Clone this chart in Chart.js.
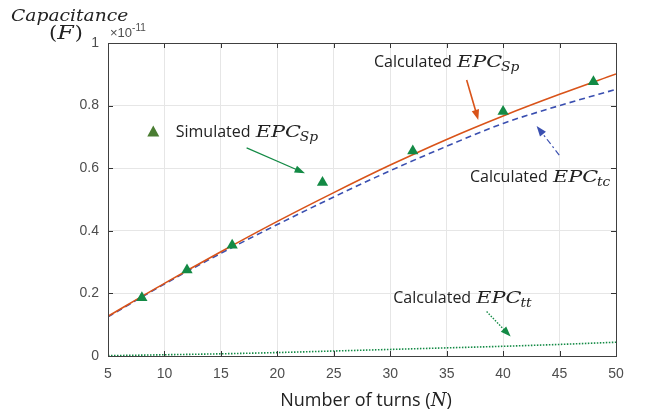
<!DOCTYPE html>
<html>
<head>
<meta charset="utf-8">
<script src="https://cdn.jsdelivr.net/npm/chart.js@4.4.0/dist/chart.umd.min.js"></script>
<style>
  html, body { margin: 0; padding: 0; background: #fff; }
  #wrap { width: 647px; height: 415px; }
</style>
</head>
<body>
<div id="wrap"><canvas id="epcChart" width="647" height="415"></canvas></div>
<script>
// 数据（单位 ×10^-11 F）
const turns = [5, 10, 15, 20, 25, 30, 35, 40, 45, 50];
const epcSp = [0.127, 0.232, 0.333, 0.430, 0.522, 0.610, 0.692, 0.767, 0.836, 0.901];
const epcTc = [0.125, 0.230, 0.328, 0.420, 0.508, 0.592, 0.670, 0.743, 0.800, 0.852];
const epcTt = [0.001, 0.004, 0.007, 0.011, 0.016, 0.021, 0.026, 0.031, 0.037, 0.044];
const simTurns = [8, 12, 16, 24, 32, 40, 48];
const simEpc = [0.186, 0.275, 0.354, 0.554, 0.655, 0.781, 0.876];
const xTicks = [5, 10, 15, 20, 25, 30, 35, 40, 45, 50];
const yTicks = [0, 0.2, 0.4, 0.6, 0.8, 1];

const RED = '#d95319';
const BLUE = '#3a4fb0';
const GREEN = '#138a45';

const SANS = '"Open Sans"';

// 注释：文字和箭头（数据坐标，文字为基线左端）
const notes = [
    { x: 28.56, y: 0.923, main: 'Calculated ', sub: 'Sp',
      arrow: [36.77, 0.882, 37.80, 0.754], color: RED, dash: [], width: 1.6 },
    { x: 37.06, y: 0.557, main: 'Calculated ', sub: 'tc',
      arrow: [44.97, 0.642, 42.97, 0.735], color: BLUE, dash: [6, 3, 2, 3], width: 1.2 },
    { x: 11.0, y: 0.700, main: 'Simulated ', sub: 'Sp',
      arrow: [17.28, 0.665, 22.45, 0.584], color: GREEN, dash: [], width: 1.2 },
    { x: 30.27, y: 0.170, main: 'Calculated ', sub: 'tt',
      arrow: [38.54, 0.142, 40.67, 0.062], color: GREEN, dash: [1.5, 1.5], width: 1.4 }
];

function pts(xs, ys) {
    return xs.map((x, i) => ({ x: x, y: ys[i] }));
}

// 横向拉伸绘制文字（模拟 Cambria Math 较宽的字形），返回宽度
function fillWide(ctx, text, x, y, sx) {
    const w = ctx.measureText(text).width * sx;
    ctx.save();
    ctx.translate(x, y);
    ctx.scale(sx, 1);
    ctx.fillText(text, 0, 0);
    ctx.restore();
    return w;
}

function drawArrow(ctx, x1, y1, x2, y2, color, dash, width) {
    const ang = Math.atan2(y2 - y1, x2 - x1);
    const head = 11;
    ctx.save();
    ctx.strokeStyle = color;
    ctx.fillStyle = color;
    ctx.lineWidth = width;
    ctx.setLineDash(dash);
    ctx.beginPath();
    ctx.moveTo(x1, y1);
    ctx.lineTo(x2 - Math.cos(ang) * head * 0.8, y2 - Math.sin(ang) * head * 0.8);
    ctx.stroke();
    ctx.setLineDash([]);
    ctx.beginPath();
    ctx.moveTo(x2, y2);
    ctx.lineTo(x2 - head * Math.cos(ang - 0.35), y2 - head * Math.sin(ang - 0.35));
    ctx.lineTo(x2 - head * Math.cos(ang + 0.35), y2 - head * Math.sin(ang + 0.35));
    ctx.closePath();
    ctx.fill();
    ctx.restore();
}

function drawEpcLabel(ctx, x, y, main, sub) {
    ctx.save();
    ctx.fillStyle = '#222';
    ctx.textBaseline = 'alphabetic';
    ctx.textAlign = 'left';
    ctx.font = '16px ' + SANS;
    ctx.fillText(main, x, y);
    let cx = x + ctx.measureText(main).width + 1;
    ctx.font = 'italic 16px "DejaVu Serif"';
    cx += fillWide(ctx, 'EPC', cx, y, 1.3);
    ctx.font = 'italic 12px "DejaVu Serif"';
    fillWide(ctx, sub, cx - 1, y + 4, 1.15);
    ctx.restore();
}

const decorPlugin = {
    id: 'decor',
    afterDatasetsDraw(chart) {
        const ctx = chart.ctx;
        const xs = chart.scales.x;
        const ys = chart.scales.y;
        const area = chart.chartArea;

        // 内向刻度线（四边）
        ctx.save();
        ctx.strokeStyle = '#333';
        ctx.lineWidth = 1;
        ctx.beginPath();
        xTicks.forEach(v => {
            const px = Math.round(xs.getPixelForValue(v)) + 0.5;
            ctx.moveTo(px, area.bottom); ctx.lineTo(px, area.bottom - 5);
            ctx.moveTo(px, area.top); ctx.lineTo(px, area.top + 5);
        });
        yTicks.forEach(v => {
            const py = Math.round(ys.getPixelForValue(v)) + 0.5;
            ctx.moveTo(area.left, py); ctx.lineTo(area.left + 5, py);
            ctx.moveTo(area.right, py); ctx.lineTo(area.right - 5, py);
        });
        ctx.stroke();
        ctx.strokeStyle = '#404040';
        ctx.strokeRect(Math.round(area.left) + 0.5, Math.round(area.top) + 0.5,
            Math.round(area.right - area.left), Math.round(area.bottom - area.top));
        ctx.restore();

        // 注释
        notes.forEach(n => {
            drawEpcLabel(ctx, xs.getPixelForValue(n.x), ys.getPixelForValue(n.y), n.main, n.sub);
            const a = n.arrow;
            drawArrow(ctx, xs.getPixelForValue(a[0]), ys.getPixelForValue(a[1]),
                xs.getPixelForValue(a[2]), ys.getPixelForValue(a[3]), n.color, n.dash, n.width);
        });

        // 图例三角形
        const lx = xs.getPixelForValue(9.01);
        const ly = ys.getPixelForValue(0.717);
        ctx.save();
        ctx.fillStyle = '#4a7d32';
        ctx.beginPath();
        ctx.moveTo(lx, ly - 6);
        ctx.lineTo(lx + 6, ly + 5);
        ctx.lineTo(lx - 6, ly + 5);
        ctx.closePath();
        ctx.fill();
        ctx.restore();

        // 坐标轴标题
        ctx.save();
        ctx.fillStyle = '#222';
        ctx.textBaseline = 'alphabetic';
        ctx.textAlign = 'left';
        ctx.font = 'italic 17px "DejaVu Serif"';
        fillWide(ctx, 'Capacitance', 11, 21, 1.1);
        ctx.font = '19px "DejaVu Serif"';
        let fx = 49;
        fx += fillWide(ctx, '(', fx, 39, 1.1);
        ctx.font = 'italic 19px "DejaVu Serif"';
        fx += fillWide(ctx, 'F', fx, 39, 1.25);
        ctx.font = '19px "DejaVu Serif"';
        fillWide(ctx, ')', fx + 1, 39, 1.1);

        ctx.fillStyle = '#4d4d4d';
        ctx.font = '13px "Liberation Sans"';
        ctx.fillText('\u00d710', 110, 37);
        const wx = ctx.measureText('\u00d710').width;
        ctx.font = '10px "Liberation Sans"';
        ctx.fillText('-11', 110 + wx, 31);

        ctx.fillStyle = '#222';
        ctx.font = '18px ' + SANS;
        const t1 = 'Number of turns (';
        const w1 = ctx.measureText(t1).width;
        ctx.font = 'italic 18px "DejaVu Serif"';
        const wN = ctx.measureText('N').width;
        ctx.font = '18px ' + SANS;
        const w2 = ctx.measureText(')').width;
        let tx = (area.left + area.right) / 2 - (w1 + wN + w2) / 2 + 4;
        ctx.fillText(t1, tx, 406);
        tx += w1;
        ctx.font = 'italic 18px "DejaVu Serif"';
        ctx.fillText('N', tx, 406);
        tx += wN;
        ctx.font = '18px ' + SANS;
        ctx.fillText(')', tx, 406);
        ctx.restore();
    }
};

new Chart(document.getElementById('epcChart'), {
    type: 'line',
    data: {
        datasets: [
            {
                label: 'Simulated EPC_Sp',
                data: pts(simTurns, simEpc),
                showLine: false,
                pointStyle: 'triangle',
                pointRadius: 6.5,
                backgroundColor: GREEN,
                borderColor: GREEN,
                borderWidth: 0
            },
            {
                label: 'Calculated EPC_Sp',
                data: pts(turns, epcSp),
                borderColor: RED,
                borderWidth: 1.6,
                pointRadius: 0,
                cubicInterpolationMode: 'monotone'
            },
            {
                label: 'Calculated EPC_tc',
                data: pts(turns, epcTc),
                borderColor: BLUE,
                borderWidth: 1.6,
                borderDash: [6, 4],
                pointRadius: 0,
                cubicInterpolationMode: 'monotone'
            },
            {
                label: 'Calculated EPC_tt',
                data: pts(turns, epcTt),
                borderColor: GREEN,
                borderWidth: 1.6,
                borderDash: [1.5, 1.5],
                pointRadius: 0,
                cubicInterpolationMode: 'monotone'
            }
        ]
    },
    options: {
        responsive: false,
        animation: false,
        layout: { padding: { top: 43, right: 31, left: 0, bottom: 0 } },
        plugins: {
            legend: { display: false },
            tooltip: { enabled: false }
        },
        scales: {
            x: {
                type: 'linear',
                min: 5,
                max: 50,
                afterBuildTicks: axis => { axis.ticks = xTicks.map(v => ({ value: v })); },
                afterFit: axis => { axis.height = 59; },
                grid: { color: '#e6e6e6', drawTicks: false },
                border: { display: false },
                ticks: { color: '#4d4d4d', font: { family: 'Liberation Sans', size: 14 }, padding: 10, maxRotation: 0 }
            },
            y: {
                min: 0,
                max: 1,
                afterBuildTicks: axis => { axis.ticks = yTicks.map(v => ({ value: v })); },
                afterFit: axis => { axis.width = 108; },
                grid: { color: '#e6e6e6', drawTicks: false },
                border: { display: false },
                ticks: {
                    color: '#4d4d4d',
                    font: { family: 'Liberation Sans', size: 14 },
                    padding: 9,
                    callback: v => String(+v.toFixed(1))
                }
            }
        }
    },
    plugins: [decorPlugin]
});
</script>
</body>
</html>
